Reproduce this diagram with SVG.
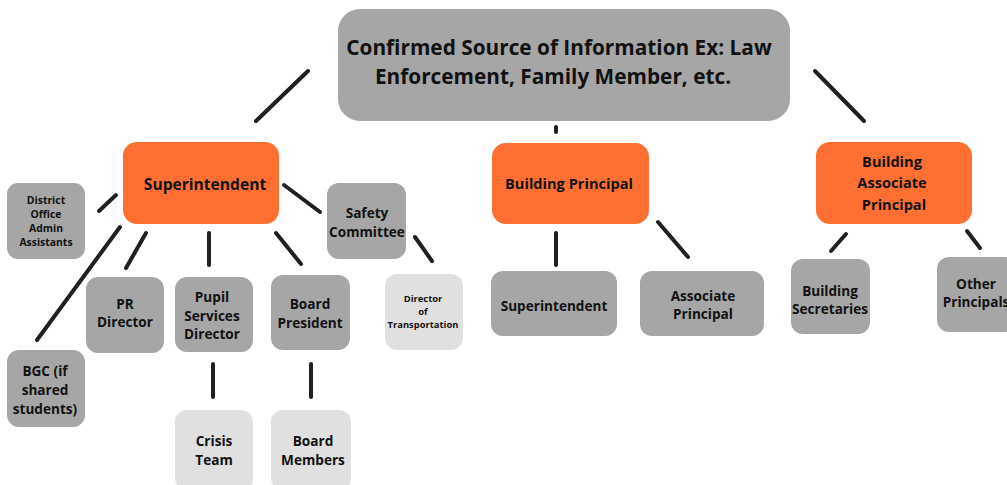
<svg xmlns="http://www.w3.org/2000/svg" width="1007" height="485" viewBox="0 0 1007 485">
<style>
.g{fill:#a6a6a6}.o{fill:#ff6f31}.l{fill:#e0e0e0}
text{font-family:"Open Sans","DejaVu Sans",sans-serif;font-weight:bold;fill:#111;text-anchor:middle}
.c line{stroke:#231f20;stroke-width:4;stroke-linecap:round}
</style>
<rect width="1007" height="485" fill="#fff"/>
<g class="c" id="connectors">
<line x1="256" y1="121" x2="308" y2="71"/>
<line x1="556" y1="127" x2="556" y2="132"/>
<line x1="815" y1="71" x2="864" y2="121"/>
<line x1="99" y1="211" x2="116" y2="195"/>
<line x1="120" y1="227" x2="37" y2="340"/>
<line x1="146" y1="233" x2="126" y2="268"/>
<line x1="209" y1="233" x2="209" y2="265"/>
<line x1="276" y1="233" x2="301" y2="264"/>
<line x1="284" y1="185" x2="320" y2="212"/>
<line x1="415" y1="237" x2="432" y2="261"/>
<line x1="213" y1="364" x2="213" y2="397"/>
<line x1="311" y1="364" x2="311" y2="397"/>
<line x1="556" y1="233" x2="556" y2="265"/>
<line x1="658" y1="222" x2="688" y2="257"/>
<line x1="831" y1="251" x2="846" y2="234"/>
<line x1="967" y1="231" x2="980" y2="248"/>
</g>
<g id="source"><rect class="g" x="338" y="9" width="452" height="112" rx="22"/><text font-size="20.8"><tspan x="559" y="55">Confirmed Source of Information Ex: Law</tspan><tspan x="553" y="84">Enforcement, Family Member, etc.</tspan></text></g>
<g id="superintendent"><rect class="o" x="123" y="142" width="156" height="82" rx="14"/><text font-size="15.6" x="205" y="190">Superintendent</text></g>
<g id="district-office"><rect class="g" x="7" y="183" width="78" height="76" rx="11"/><text font-size="10.4"><tspan x="46" y="204">District</tspan><tspan x="46" y="218">Office</tspan><tspan x="46" y="232">Admin</tspan><tspan x="46" y="246">Assistants</tspan></text></g>
<g id="safety-committee"><rect class="g" x="327" y="183" width="79" height="76" rx="12"/><text font-size="13.6"><tspan x="367" y="218">Safety</tspan><tspan x="367" y="237">Committee</tspan></text></g>
<g id="pr-director"><rect class="g" x="86" y="277" width="78" height="76" rx="12"/><text font-size="13.6"><tspan x="125" y="309">PR</tspan><tspan x="125" y="327">Director</tspan></text></g>
<g id="pupil-services"><rect class="g" x="175" y="277" width="78" height="75" rx="12"/><text font-size="13.6"><tspan x="212" y="302">Pupil</tspan><tspan x="212" y="321">Services</tspan><tspan x="212" y="339">Director</tspan></text></g>
<g id="board-president"><rect class="g" x="271" y="275" width="79" height="75" rx="12"/><text font-size="13.6"><tspan x="310" y="309">Board</tspan><tspan x="310" y="328">President</tspan></text></g>
<g id="director-transportation"><rect class="l" x="385" y="274" width="78" height="76" rx="12"/><text font-size="9.4"><tspan x="423" y="302">Director</tspan><tspan x="423" y="315">of</tspan><tspan x="423" y="328">Transportation</tspan></text></g>
<g id="bgc"><rect class="g" x="7" y="350" width="78" height="77" rx="12"/><text font-size="13.6"><tspan x="45" y="376">BGC (if</tspan><tspan x="45" y="395">shared</tspan><tspan x="45" y="414">students)</tspan></text></g>
<g id="crisis-team"><rect class="l" x="175" y="410" width="78" height="80" rx="12"/><text font-size="13.6"><tspan x="214" y="446">Crisis</tspan><tspan x="214" y="465">Team</tspan></text></g>
<g id="board-members"><rect class="l" x="271" y="410" width="80" height="80" rx="12"/><text font-size="13.6"><tspan x="313" y="446">Board</tspan><tspan x="313" y="465">Members</tspan></text></g>
<g id="building-principal"><rect class="o" x="492" y="143" width="157" height="81" rx="14"/><text font-size="14.6" x="569" y="189">Building Principal</text></g>
<g id="superintendent-2"><rect class="g" x="491" y="271" width="126" height="65" rx="12"/><text font-size="13.6" x="554" y="311">Superintendent</text></g>
<g id="associate-principal"><rect class="g" x="640" y="271" width="124" height="65" rx="12"/><text font-size="13.6"><tspan x="703" y="301">Associate</tspan><tspan x="703" y="319">Principal</tspan></text></g>
<g id="building-associate-principal"><rect class="o" x="816" y="142" width="156" height="82" rx="14"/><text font-size="14.6"><tspan x="892" y="167">Building</tspan><tspan x="892" y="188">Associate</tspan><tspan x="894" y="210">Principal</tspan></text></g>
<g id="building-secretaries"><rect class="g" x="791" y="259" width="79" height="75" rx="12"/><text font-size="13.6"><tspan x="830" y="296">Building</tspan><tspan x="830" y="314">Secretaries</tspan></text></g>
<g id="other-principals"><rect class="g" x="937" y="257" width="80" height="75" rx="12"/><text font-size="13.6"><tspan x="976" y="289">Other</tspan><tspan x="976" y="307">Principals</tspan></text></g>
</svg>
